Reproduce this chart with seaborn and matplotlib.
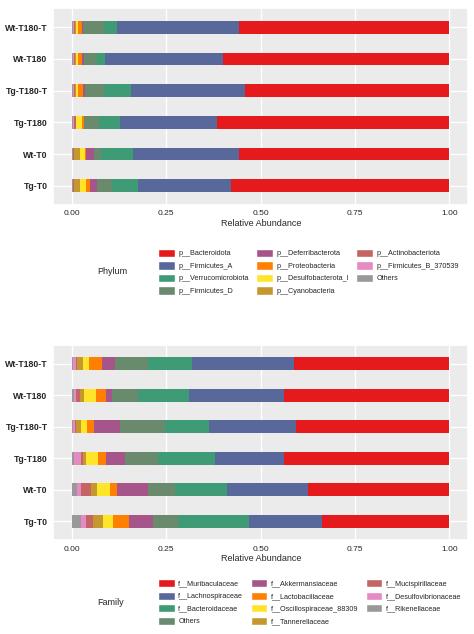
import numpy as np
import matplotlib
matplotlib.use("Agg")
import matplotlib.pyplot as plt
import seaborn as sns
from matplotlib.patches import Patch

samples = ["Wt-T180-T", "Wt-T180", "Tg-T180-T", "Tg-T180", "Wt-T0", "Tg-T0"]

# phylum (legend order); Bacteroidota = remainder
phyla = ["p__Bacteroidota", "p__Firmicutes_A", "p__Verrucomicrobiota", "p__Firmicutes_D",
         "p__Deferribacterota", "p__Proteobacteria", "p__Desulfobacterota_I", "p__Cyanobacteria",
         "p__Actinobacteriota", "p__Firmicutes_B_370539", "Others"]
phy_colors = ["#E41A1C", "#58689A", "#3F9B75", "#6A8A6E", "#A5558A", "#FF7F00", "#FFE52A",
              "#C4982E", "#C46464", "#E68AC3", "#999999"]
p_firmA = [0.323, 0.313, 0.302, 0.259, 0.279, 0.246]
p_verr = [0.036, 0.020, 0.072, 0.054, 0.085, 0.068]
p_firmD = [0.055, 0.035, 0.051, 0.039, 0.020, 0.041]
p_defer = [0.003, 0.006, 0.004, 0.002, 0.020, 0.017]
p_prot = [0.010, 0.010, 0.015, 0.004, 0.004, 0.013]
p_desul = [0.006, 0.006, 0.003, 0.017, 0.012, 0.014]
p_cyan = [0.003, 0.002, 0.004, 0.000, 0.016, 0.016]
p_actino = [0.002, 0.003, 0.003, 0.004, 0.002, 0.002]
p_firmB = [0.002, 0.002, 0.002, 0.004, 0.002, 0.002]
p_others = [0.003, 0.003, 0.003, 0.002, 0.002, 0.002]

families = ["f__Muribaculaceae", "f__Lachnospiraceae", "f__Bacteroidaceae", "Others",
            "f__Akkermansiaceae", "f__Lactobacillaceae", "f__Oscillospiraceae_88309",
            "f__Tannerellaceae", "f__Mucispirillaceae", "f__Desulfovibrionaceae", "f__Rikenellaceae"]
fam_colors = phy_colors
f_lach = [0.269, 0.252, 0.232, 0.182, 0.215, 0.193]
f_bact = [0.116, 0.135, 0.116, 0.151, 0.137, 0.189]
f_oth = [0.088, 0.070, 0.119, 0.088, 0.072, 0.066]
f_akk = [0.035, 0.017, 0.068, 0.051, 0.082, 0.064]
f_lact = [0.035, 0.026, 0.020, 0.021, 0.020, 0.042]
f_osc = [0.016, 0.031, 0.015, 0.032, 0.034, 0.028]
f_tann = [0.015, 0.011, 0.013, 0.009, 0.016, 0.024]
f_muci = [0.003, 0.009, 0.004, 0.004, 0.025, 0.020]
f_desul = [0.007, 0.007, 0.004, 0.018, 0.012, 0.013]
f_rik = [0.003, 0.005, 0.003, 0.006, 0.013, 0.024]

def remainder(parts):
    return list(1 - np.sum(np.array(parts), axis=0))

p_rest = [p_firmA, p_verr, p_firmD, p_defer, p_prot, p_desul, p_cyan, p_actino, p_firmB, p_others]
phy_vals = [remainder(p_rest)] + p_rest
f_rest = [f_lach, f_bact, f_oth, f_akk, f_lact, f_osc, f_tann, f_muci, f_desul, f_rik]
fam_vals = [remainder(f_rest)] + f_rest

sns.set_theme(style="darkgrid", rc={"axes.facecolor": "#EBEBEB", "grid.color": "white",
                                     "font.family": "Liberation Sans"})
fig = plt.figure(figsize=(4.74, 6.34), dpi=100)

def panel(rect, vals, colors):
    ax = fig.add_axes(rect)
    y = np.arange(len(samples))[::-1]
    left = np.zeros(len(samples))
    for v, c in zip(vals[::-1], colors[::-1]):
        ax.barh(y, v, left=left, height=0.4, color=c, linewidth=0)
        left += np.array(v)
    ax.set_xlim(-0.05, 1.05)
    ax.set_ylim(-0.6, 5.6)
    ax.set_yticks(y)
    ax.set_yticklabels(samples, fontsize=6.3, fontweight="bold")
    ax.set_xticks([0, 0.25, 0.5, 0.75, 1.0])
    ax.set_xticklabels(["0.00", "0.25", "0.50", "0.75", "1.00"], fontsize=6)
    ax.set_xlabel("Relative Abundance", fontsize=6.5, labelpad=1)
    ax.tick_params(length=2, pad=2)
    return ax

panel([0.112, 0.677, 0.876, 0.31], phy_vals, phy_colors)
panel([0.112, 0.148, 0.876, 0.308], fam_vals, fam_colors)

def legend(names, colors, title, y, ty):
    handles = [Patch(facecolor=c, label=n) for n, c in zip(names, colors)]
    fig.legend(handles=handles, loc="upper left", bbox_to_anchor=(0.32, y), ncol=3,
               frameon=False, fontsize=5.2, handlelength=2.3, handleheight=1.4,
               columnspacing=1.0, labelspacing=0.55, handletextpad=0.5)
    fig.text(0.205, ty, title, fontsize=6.5, ha="left", va="center")

legend(phyla, phy_colors, "Phylum", 0.618, 0.571)
legend(families, fam_colors, "Family", 0.097, 0.05)

fig.savefig("out.png", dpi=100)
